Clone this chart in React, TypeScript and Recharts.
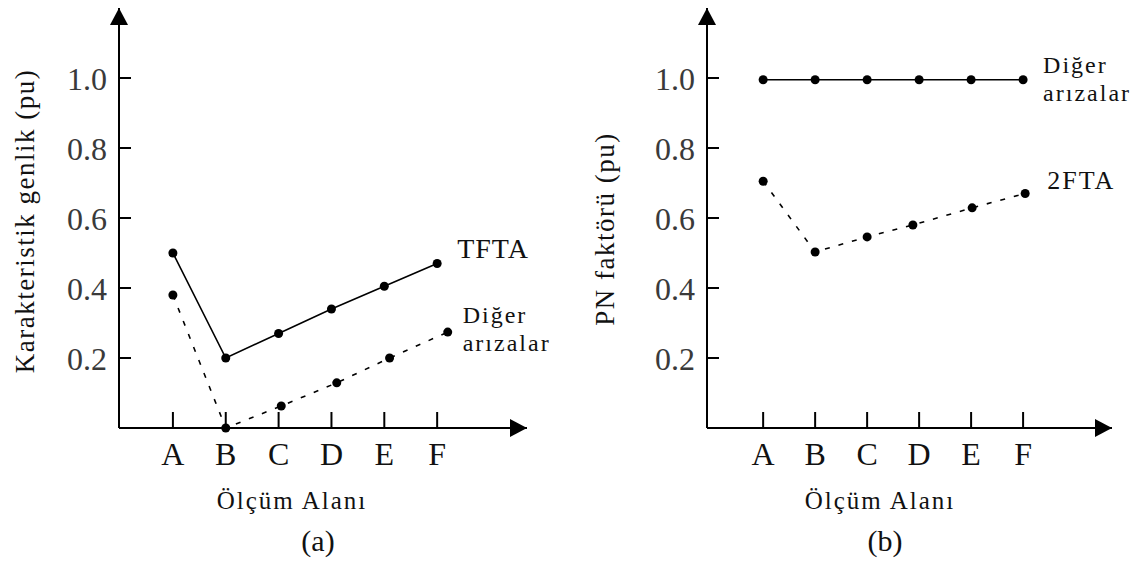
import React from 'react';
import { LineChart, Line, XAxis, YAxis } from 'recharts';

const categories = ['A', 'B', 'C', 'D', 'E', 'F'];
const categoryIndex = [0, 1, 2, 3, 4, 5];
const yTicks = [0.2, 0.4, 0.6, 0.8, 1.0];

// Panel (a)
const tftaX = [0, 1, 2, 3, 4, 5];
const tftaY = [0.5, 0.2, 0.27, 0.34, 0.405, 0.47];
const otherAX = [0, 1, 2.05, 3.1, 4.1, 5.2];
const otherAY = [0.38, 0, 0.063, 0.129, 0.2, 0.274];

// Panel (b)
const otherBX = [0, 1, 2, 3, 4, 5];
const otherBY = [0.995, 0.995, 0.995, 0.995, 0.995, 0.995];
const ftaX = [0, 1, 2, 2.88, 4.02, 5.04];
const ftaY = [0.705, 0.503, 0.546, 0.58, 0.629, 0.67];

const zip = (xs: number[], ys: number[]) => xs.map((x, i) => ({ x, y: ys[i] }));

const FONT = '"Liberation Serif", "Times New Roman", serif';

const YTick = (props: any) => {
  const { x, y, payload } = props;
  const ax = x + 12;
  return (
    <g>
      <line x1={ax} x2={ax + 12} y1={y} y2={y} stroke="#000" strokeWidth={2} />
      <text x={x} y={y} dy="0.36em" textAnchor="end" fontSize={32} fill="#3a3a3a" fontFamily={FONT}>
        {Number(payload.value).toFixed(1)}
      </text>
    </g>
  );
};

const XTick = (props: any) => {
  const { x, y, payload } = props;
  return (
    <g>
      <line x1={x} x2={x} y1={y} y2={y - 16} stroke="#000" strokeWidth={2} />
      <text x={x} y={y + 37} textAnchor="middle" fontSize={32} fill="#111" fontFamily={FONT}>
        {categories[payload.value]}
      </text>
    </g>
  );
};

const endLabel = (lines: string[], dx: number, dy: number, n: number, fs = 24, ls = 2) => (props: any) => {
  if (props.index !== n - 1) return <g key={`l${props.index}`} />;
  return (
    <g key="end">
      {lines.map((l, i) => (
        <text
          key={i}
          x={props.x + dx}
          y={props.y + dy + i * 28}
          fontSize={fs}
          fill="#111"
          fontFamily={FONT}
          letterSpacing={ls}
        >
          {l}
        </text>
      ))}
    </g>
  );
};

const dotStyle = { r: 4.5, fill: '#000', stroke: 'none' };

export default function App() {
  return (
    <div style={{ position: 'fixed', left: 0, top: 0, width: 1139, height: 563, background: '#fff' }}>
      <div style={{ position: 'absolute', left: 0, top: 0 }}>
        <LineChart width={570} height={563} margin={{ top: 8, right: 43, bottom: 95, left: 0 }}>
          <XAxis
            type="number"
            dataKey="x"
            domain={[-1.02, 6.7]}
            ticks={categoryIndex}
            allowDataOverflow
            height={40}
            tickSize={0}
            tickMargin={0}
            tickLine={false}
            tick={<XTick />}
            axisLine={{ stroke: '#000', strokeWidth: 2, markerEnd: 'url(#arrowHead)' } as any}
          />
          <YAxis
            type="number"
            domain={[0, 1.2]}
            ticks={yTicks}
            width={119}
            tickSize={0}
            tickMargin={12}
            tickLine={false}
            tick={<YTick />}
            axisLine={{ stroke: '#000', strokeWidth: 2, markerStart: 'url(#arrowHead)' } as any}
          />
          <Line
            data={zip(tftaX, tftaY)}
            dataKey="y"
            type="linear"
            stroke="#000"
            strokeWidth={1.6}
            dot={dotStyle}
            isAnimationActive={false}
            label={endLabel(['TFTA'], 20, -6, tftaX.length, 28, 1)}
          />
          <Line
            data={zip(otherAX, otherAY)}
            dataKey="y"
            type="linear"
            stroke="#000"
            strokeWidth={1.6}
            strokeDasharray="5 9"
            dot={dotStyle}
            isAnimationActive={false}
            label={endLabel(['Diğer', 'arızalar'], 15, -9, otherAX.length)}
          />
        </LineChart>
      </div>
      <div style={{ position: 'absolute', left: 580, top: 0 }}>
        <LineChart width={559} height={563} margin={{ top: 8, right: 27, bottom: 95, left: 0 }}>
          <XAxis
            type="number"
            dataKey="x"
            domain={[-1.08, 6.71]}
            ticks={categoryIndex}
            allowDataOverflow
            height={40}
            tickSize={0}
            tickMargin={0}
            tickLine={false}
            tick={<XTick />}
            axisLine={{ stroke: '#000', strokeWidth: 2, markerEnd: 'url(#arrowHead)' } as any}
          />
          <YAxis
            type="number"
            domain={[0, 1.2]}
            ticks={yTicks}
            width={127}
            tickSize={0}
            tickMargin={12}
            tickLine={false}
            tick={<YTick />}
            axisLine={{ stroke: '#000', strokeWidth: 2, markerStart: 'url(#arrowHead)' } as any}
          />
          <Line
            data={zip(otherBX, otherBY)}
            dataKey="y"
            type="linear"
            stroke="#000"
            strokeWidth={1.6}
            dot={dotStyle}
            isAnimationActive={false}
            label={endLabel(['Diğer', 'arızalar'], 20, -7, otherBX.length)}
          />
          <Line
            data={zip(ftaX, ftaY)}
            dataKey="y"
            type="linear"
            stroke="#000"
            strokeWidth={1.6}
            strokeDasharray="5 9"
            dot={dotStyle}
            isAnimationActive={false}
            label={endLabel(['2FTA'], 22, -5, ftaX.length, 26, 2)}
          />
        </LineChart>
      </div>
      <svg
        width={1139}
        height={563}
        style={{ position: 'absolute', left: 0, top: 0, pointerEvents: 'none' }}
      >
        <defs>
          <marker
            id="arrowHead"
            markerUnits="userSpaceOnUse"
            markerWidth={20}
            markerHeight={20}
            refX={17}
            refY={9}
            orient="auto-start-reverse"
          >
            <path d="M0,0 L17,9 L0,18 Z" fill="#000" />
          </marker>
        </defs>
        <text
          transform="translate(25,221) rotate(-90)"
          textAnchor="middle"
          dominantBaseline="central"
          fontSize={27}
          letterSpacing={1.5}
          fill="#111"
          fontFamily={FONT}
        >
          Karakteristik genlik  (pu)
        </text>
        <text
          transform="translate(605,229) rotate(-90)"
          textAnchor="middle"
          dominantBaseline="central"
          fontSize={27}
          letterSpacing={1.5}
          fill="#111"
          fontFamily={FONT}
        >
          PN faktörü  (pu)
        </text>
        <text x={292} y={500} textAnchor="middle" dominantBaseline="central" fontSize={25} letterSpacing={2} fill="#111" fontFamily={FONT}>
          Ölçüm Alanı
        </text>
        <text x={880} y={500} textAnchor="middle" dominantBaseline="central" fontSize={25} letterSpacing={2} fill="#111" fontFamily={FONT}>
          Ölçüm Alanı
        </text>
        <text x={318} y={540} textAnchor="middle" dominantBaseline="central" fontSize={30} fill="#111" fontFamily={FONT}>
          (a)
        </text>
        <text x={885} y={540} textAnchor="middle" dominantBaseline="central" fontSize={30} fill="#111" fontFamily={FONT}>
          (b)
        </text>
      </svg>
    </div>
  );
}
